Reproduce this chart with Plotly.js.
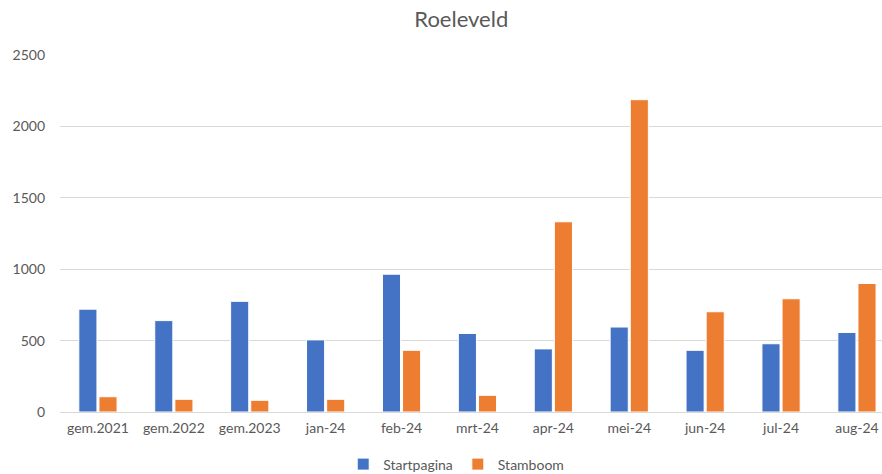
<!DOCTYPE html>
<html>
<head>
<meta charset="utf-8">
<script src="https://cdn.plot.ly/plotly-3.0.1.min.js"></script>
<style>html,body{margin:0;padding:0;background:#fff;}#chart{width:882px;height:474px;}</style>
</head>
<body>
<div id="chart"></div>
<script>
const categories = ["gem.2021","gem.2022","gem.2023","jan-24","feb-24","mrt-24","apr-24","mei-24","jun-24","jul-24","aug-24"];
const startpagina = [720, 640, 775, 505, 965, 550, 442, 595, 432, 478, 557];
const stamboom = [107, 89, 82, 89, 432, 117, 1332, 2187, 702, 793, 900];

const font = "Lato, 'Open Sans', sans-serif";
const traces = [
  {type:"bar", name:"Startpagina", x:categories, y:startpagina, marker:{color:"#4472C4", line:{color:"#ffffff", width:1}}},
  {type:"bar", name:"Stamboom", x:categories, y:stamboom, marker:{color:"#ED7D31", line:{color:"#ffffff", width:1}}}
];
const layout = {
  width:882, height:474,
  margin:{l:60, r:0, t:55, b:62, autoexpand:false},
  paper_bgcolor:"#ffffff", plot_bgcolor:"#ffffff",
  font:{family:font, color:"#595959", size:14},
  title:{text:"Roeleveld", font:{family:font, size:22, color:"#595959"}, x:0.523, xanchor:"center", y:0.96, yanchor:"middle"},
  barmode:"group", bargap:0.47, bargroupgap:0.1,
  xaxis:{type:"category", range:[-0.5, 10.33], showgrid:false, zeroline:false, showline:false, ticks:"", tickfont:{size:14, color:"#595959"}, ticklabelstandoff:6},
  yaxis:{range:[0,2500], dtick:500, showgrid:true, gridcolor:"#d9d9d9", gridwidth:1, zeroline:true, zerolinecolor:"#d9d9d9", zerolinewidth:1, showline:false, ticks:"", ticklen:0, tickfont:{size:14, color:"#595959"}, ticklabelstandoff:14},
  legend:{orientation:"h", x:0.482, xanchor:"center", yref:"container", y:0.02, yanchor:"middle", font:{size:14, color:"#595959"}, itemwidth:10, traceorder:"normal"},
  showlegend:true
};
Plotly.newPlot("chart", traces, layout, {displayModeBar:false, staticPlot:true});
</script>
</body>
</html>
